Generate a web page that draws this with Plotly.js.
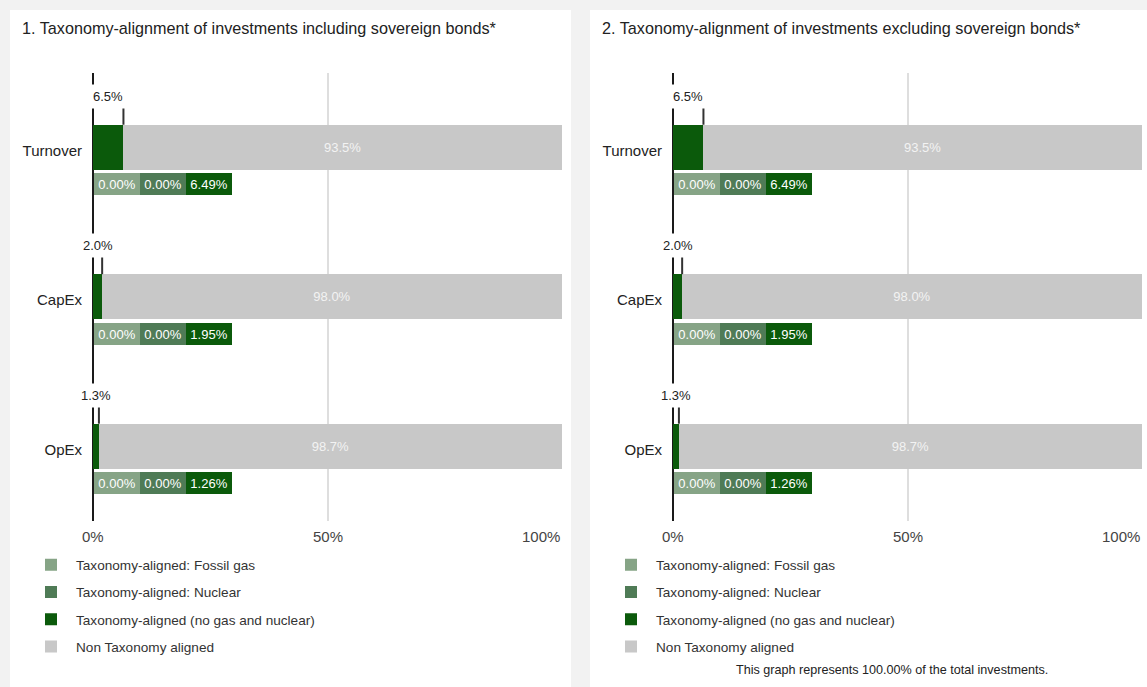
<!DOCTYPE html>
<html><head><meta charset="utf-8">
<script src="https://cdn.plot.ly/plotly-3.0.1.min.js"></script>
<style>html,body{margin:0;padding:0;background:#f2f2f2}#chart{width:1147px;height:687px}</style>
</head><body><div id="chart"></div>
<script>
// ---- data ----
const categories = ['Turnover', 'CapEx', 'OpEx'];
const panelTitles = [
  '1. Taxonomy-alignment of investments including sovereign bonds*',
  '2. Taxonomy-alignment of investments excluding sovereign bonds*'
];
const seriesNames = [
  'Taxonomy-aligned: Fossil gas',
  'Taxonomy-aligned: Nuclear',
  'Taxonomy-aligned (no gas and nuclear)',
  'Non Taxonomy aligned'
];
// panel 1 (including sovereign bonds)
const fossilGas1 = [0.00, 0.00, 0.00];
const nuclear1 = [0.00, 0.00, 0.00];
const aligned1 = [6.49, 1.95, 1.26];
const nonAligned1 = [93.5, 98.0, 98.7];
const alignedTotal1 = [6.5, 2.0, 1.3];
// panel 2 (excluding sovereign bonds)
const fossilGas2 = [0.00, 0.00, 0.00];
const nuclear2 = [0.00, 0.00, 0.00];
const aligned2 = [6.49, 1.95, 1.26];
const nonAligned2 = [93.5, 98.0, 98.7];
const alignedTotal2 = [6.5, 2.0, 1.3];
const tickVals = [0, 50, 100];
const tickLabels = ['0%', '50%', '100%'];
const footnote = 'This graph represents 100.00% of the total investments.';

// ---- styling ----
const W = 1147, H = 687;
const colors = ['#86a486', '#4f7b56', '#0b5a0b', '#c8c8c8'];
const px = v => v / W, py = v => 1 - v / H;
const panels = [
  {data: [fossilGas1, nuclear1, aligned1, nonAligned1], totals: alignedTotal1, sfx: '', off: 0, legend: 'legend'},
  {data: [fossilGas2, nuclear2, aligned2, nonAligned2], totals: alignedTotal2, sfx: '2', off: 580, legend: 'legend2'}
];
const BAR_W = 0.302;

const traces = [], annotations = [], shapes = [];
const layout = {
  width: W, height: H, margin: {l: 0, r: 0, t: 0, b: 0},
  paper_bgcolor: '#f2f2f2', plot_bgcolor: '#ffffff',
  font: {family: 'Liberation Sans, Arial, sans-serif', color: '#222'},
  barmode: 'stack', showlegend: true, hovermode: false,
  annotations, shapes
};

// panel backgrounds
shapes.push({type: 'rect', xref: 'paper', yref: 'paper', x0: px(10), x1: px(571), y0: 0, y1: py(10), fillcolor: '#ffffff', line: {width: 0}, layer: 'below'});
shapes.push({type: 'rect', xref: 'paper', yref: 'paper', x0: px(590), x1: 1, y0: 0, y1: py(10), fillcolor: '#ffffff', line: {width: 0}, layer: 'below'});

panels.forEach((p, pi) => {
  const xa = 'x' + p.sfx, ya = 'y' + p.sfx;
  p.data.forEach((vals, k) => {
    traces.push({
      type: 'bar', orientation: 'h', y: categories, x: vals, name: seriesNames[k],
      xaxis: xa, yaxis: ya, width: BAR_W,
      marker: {color: colors[k], line: {width: 0}},
      legend: p.legend, legendgroup: 'g' + pi + k,
      text: k === 3 ? vals.map(v => v.toFixed(1) + '%') : undefined,
      textposition: k === 3 ? 'inside' : 'none',
      insidetextanchor: 'middle', textangle: 0,
      textfont: {color: '#f3f3f3', size: 13},
      hoverinfo: 'skip'
    });
  });
  const L = p.off;
  layout['xaxis' + p.sfx] = {
    domain: [px(93 + L), px(562 + L)], range: [0, 100], anchor: ya,
    tickvals: tickVals, showticklabels: false, ticks: '',
    showgrid: true, gridcolor: '#dedede', gridwidth: 2,
    zeroline: true, zerolinecolor: '#1a1a1a', zerolinewidth: 2,
    showline: false, fixedrange: true
  };
  layout['yaxis' + p.sfx] = {
    domain: [py(521), py(72.5)], type: 'category', range: [2.5, -0.5], anchor: xa,
    showgrid: false, zeroline: false, showline: false, ticks: '',
    ticklabelstandoff: 10, ticklabelshift: -3, tickfont: {size: 15, color: '#222'}, fixedrange: true
  };
  layout[p.legend] = {
    x: px(26 + L), xanchor: 'left', y: py(549.5), yanchor: 'top',
    font: {size: 13.6, color: '#333'}, bgcolor: 'rgba(0,0,0,0)',
    itemwidth: 40, tracegroupgap: 6.5, traceorder: 'grouped', itemclick: false, itemdoubleclick: false
  };
  // title
  annotations.push({text: panelTitles[pi], xref: 'paper', yref: 'paper', x: px(20 + L), y: py(28), xanchor: 'left', yanchor: 'middle', showarrow: false, font: {size: 16.2, color: '#222'}});
  // x tick labels
  tickVals.forEach((tv, i) => {
    annotations.push({text: tickLabels[i], xref: xa, yref: 'paper', x: tv, y: py(536), xanchor: i === tickVals.length - 1 ? 'right' : 'center', yanchor: 'middle', showarrow: false, font: {size: 15, color: '#444'}});
  });
  categories.forEach((c, i) => {
    const parts = [p.data[0][i], p.data[1][i], p.data[2][i]];
    const total = p.totals[i];
    // bracket label
    annotations.push({text: total.toFixed(1) + '%', xref: xa, yref: ya, x: total / 2, y: i, yshift: 51, xanchor: 'center', yanchor: 'middle', showarrow: false, bgcolor: '#ffffff', borderpad: 4, font: {size: 13, color: '#222'}});
    // end tick at the end of the aligned stack
    const end = parts.reduce((a, b) => a + b, 0);
    shapes.push({type: 'line', xref: xa, yref: ya, x0: end, x1: end, y0: i - BAR_W / 2 - 0.115, y1: i - BAR_W / 2, line: {color: '#333', width: 2}});
    // breakdown boxes
    parts.forEach((v, j) => {
      annotations.push({text: v.toFixed(2) + '%', xref: xa, yref: ya, x: 0, y: i, xshift: 1 + j * 46, yshift: -37, xanchor: 'left', yanchor: 'middle', showarrow: false, bgcolor: colors[j], borderpad: 0, borderwidth: 0, width: 46, height: 22, align: 'center', valign: 'middle', font: {size: 13, color: '#ffffff'}});
    });
  });
});

annotations.push({text: footnote, xref: 'paper', yref: 'paper', x: px(892), y: py(670), xanchor: 'center', yanchor: 'middle', showarrow: false, font: {family: 'Liberation Sans Narrow, Arial Narrow, sans-serif', size: 12.6, color: '#222'}});

Plotly.newPlot('chart', traces, layout, {displayModeBar: false, staticPlot: true});
</script>
</body></html>
